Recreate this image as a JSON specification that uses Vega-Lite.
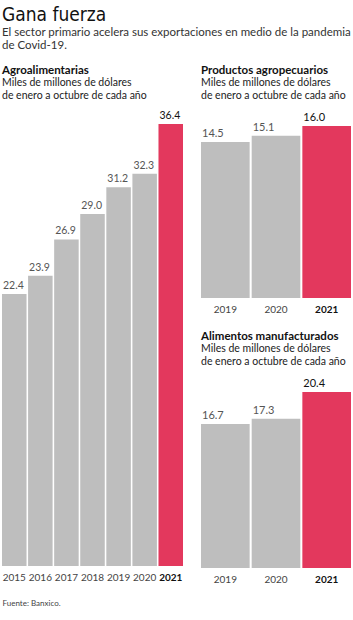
{
  "$schema": "https://vega.github.io/schema/vega-lite/v6.json",
  "padding": {"left": 2, "top": 6, "right": 0, "bottom": 0},
  "background": "white",
  "config": {
    "font": "Lato",
    "view": {"stroke": null},
    "concat": {"spacing": 18},
    "axis": {"labelFont": "Lato", "labelColor": "#444", "labelFontSize": 10}
  },
  "title": {
    "text": "Gana fuerza",
    "subtitle": ["El sector primario acelera sus exportaciones en medio de la pandemia", "de Covid-19."],
    "anchor": "start",
    "font": "DejaVu Sans Condensed, Roboto",
    "fontSize": 19,
    "fontWeight": "normal",
    "color": "#111",
    "subtitleFont": "Lato",
    "subtitleFontSize": 11.5,
    "subtitleColor": "#333",
    "subtitleLineHeight": 12.5,
    "subtitlePadding": 2,
    "offset": 14,
    "frame": "group"
  },
  "datasets": {
    "agro": [
      {"anio": "2015", "valor": 22.4},
      {"anio": "2016", "valor": 23.9},
      {"anio": "2017", "valor": 26.9},
      {"anio": "2018", "valor": 29.0},
      {"anio": "2019", "valor": 31.2},
      {"anio": "2020", "valor": 32.3},
      {"anio": "2021", "valor": 36.4}
    ],
    "prod": [
      {"anio": "2019", "valor": 14.5},
      {"anio": "2020", "valor": 15.1},
      {"anio": "2021", "valor": 16.0}
    ],
    "alim": [
      {"anio": "2019", "valor": 16.7},
      {"anio": "2020", "valor": 17.3},
      {"anio": "2021", "valor": 20.4}
    ]
  },
  "hconcat": [
    {
      "data": {"name": "agro"},
      "width": 181,
      "height": 461,
      "title": {
        "text": "Agroalimentarias",
        "subtitle": ["Miles de millones de dólares", "de enero a octubre de cada año"],
        "anchor": "start",
        "fontSize": 11.5,
        "fontWeight": "bold",
        "color": "#111",
        "subtitleFontSize": 10.5,
        "subtitleColor": "#222",
        "subtitleLineHeight": 13,
        "subtitlePadding": 1,
        "offset": 4
      },
      "encoding": {
        "x": {
          "field": "anio", "type": "ordinal",
          "scale": {"paddingInner": 0.06, "paddingOuter": 0},
          "axis": {
            "title": "Fuente: Banxico.",
            "titleFontSize": 8,
            "titleFontWeight": "normal",
            "titleColor": "#444",
            "titleAnchor": "start",
            "titleAlign": "left",
            "titlePadding": 17,
            "labelAngle": 0,
            "ticks": false,
            "domain": false,
            "labelPadding": 6,
            "labelFontWeight": {"condition": {"test": "datum.label == '2021'", "value": "bold"}, "value": "normal"},
            "labelColor": {"condition": {"test": "datum.label == '2021'", "value": "#111"}, "value": "#444"}
          }
        },
        "y": {"field": "valor", "type": "quantitative", "scale": {"domain": [0, 37.97]}, "axis": null}
      },
      "layer": [
        {
          "mark": {"type": "bar"},
          "encoding": {
            "color": {"condition": {"test": "datum.anio == '2021'", "value": "#e3385d"}, "value": "#bebebe"}
          }
        },
        {
          "mark": {"type": "text", "baseline": "alphabetic", "align": "left", "dx": 1, "dy": -5, "fontSize": 10.5},
          "encoding": {
            "x": {"field": "anio", "type": "ordinal", "bandPosition": 0},
            "text": {"field": "valor", "type": "quantitative", "format": ".1f"},
            "fontWeight": {"condition": {"test": "datum.anio == '2021'", "value": "bold"}, "value": "normal"},
            "color": {"condition": {"test": "datum.anio == '2021'", "value": "#111"}, "value": "#555"}
          }
        }
      ]
    },
    {
      "vconcat": [
        {
          "data": {"name": "prod"},
          "width": 150,
          "height": 193,
          "title": {
            "text": "Productos agropecuarios",
            "subtitle": ["Miles de millones de dólares", "de enero a octubre de cada año"],
            "anchor": "start",
            "fontSize": 11.5,
            "fontWeight": "bold",
            "color": "#111",
            "subtitleFontSize": 10.5,
            "subtitleColor": "#222",
            "subtitleLineHeight": 13,
            "subtitlePadding": 1,
            "offset": 4
          },
          "encoding": {
            "x": {
              "field": "anio", "type": "ordinal",
              "scale": {"paddingInner": 0.04, "paddingOuter": 0},
              "axis": {
                "title": null,
                "labelAngle": 0,
                "ticks": false,
                "domain": false,
                "labelPadding": 6,
                "labelFontWeight": {"condition": {"test": "datum.label == '2021'", "value": "bold"}, "value": "normal"},
                "labelColor": {"condition": {"test": "datum.label == '2021'", "value": "#111"}, "value": "#444"}
              }
            },
            "y": {"field": "valor", "type": "quantitative", "scale": {"domain": [0, 17.95]}, "axis": null}
          },
          "layer": [
            {
              "mark": {"type": "bar"},
              "encoding": {
                "color": {"condition": {"test": "datum.anio == '2021'", "value": "#e3385d"}, "value": "#bebebe"}
              }
            },
            {
              "mark": {"type": "text", "baseline": "alphabetic", "align": "left", "dx": 1, "dy": -5, "fontSize": 11},
              "encoding": {
                "x": {"field": "anio", "type": "ordinal", "bandPosition": 0},
                "text": {"field": "valor", "type": "quantitative", "format": ".1f"},
                "fontWeight": {"condition": {"test": "datum.anio == '2021'", "value": "bold"}, "value": "normal"},
                "color": {"condition": {"test": "datum.anio == '2021'", "value": "#111"}, "value": "#555"}
              }
            }
          ]
        },
        {
          "data": {"name": "alim"},
          "width": 150,
          "height": 197,
          "title": {
            "text": "Alimentos manufacturados",
            "subtitle": ["Miles de millones de dólares", "de enero a octubre de cada año"],
            "anchor": "start",
            "fontSize": 11.5,
            "fontWeight": "bold",
            "color": "#111",
            "subtitleFontSize": 10.5,
            "subtitleColor": "#222",
            "subtitleLineHeight": 13,
            "subtitlePadding": 1,
            "offset": 4
          },
          "encoding": {
            "x": {
              "field": "anio", "type": "ordinal",
              "scale": {"paddingInner": 0.04, "paddingOuter": 0},
              "axis": {
                "title": null,
                "labelAngle": 0,
                "ticks": false,
                "domain": false,
                "labelPadding": 6,
                "labelFontWeight": {"condition": {"test": "datum.label == '2021'", "value": "bold"}, "value": "normal"},
                "labelColor": {"condition": {"test": "datum.label == '2021'", "value": "#111"}, "value": "#444"}
              }
            },
            "y": {"field": "valor", "type": "quantitative", "scale": {"domain": [0, 22.83]}, "axis": null}
          },
          "layer": [
            {
              "mark": {"type": "bar"},
              "encoding": {
                "color": {"condition": {"test": "datum.anio == '2021'", "value": "#e3385d"}, "value": "#bebebe"}
              }
            },
            {
              "mark": {"type": "text", "baseline": "alphabetic", "align": "left", "dx": 1, "dy": -5, "fontSize": 11},
              "encoding": {
                "x": {"field": "anio", "type": "ordinal", "bandPosition": 0},
                "text": {"field": "valor", "type": "quantitative", "format": ".1f"},
                "fontWeight": {"condition": {"test": "datum.anio == '2021'", "value": "bold"}, "value": "normal"},
                "color": {"condition": {"test": "datum.anio == '2021'", "value": "#111"}, "value": "#555"}
              }
            }
          ]
        }
      ],
      "spacing": 17
    }
  ]
}
